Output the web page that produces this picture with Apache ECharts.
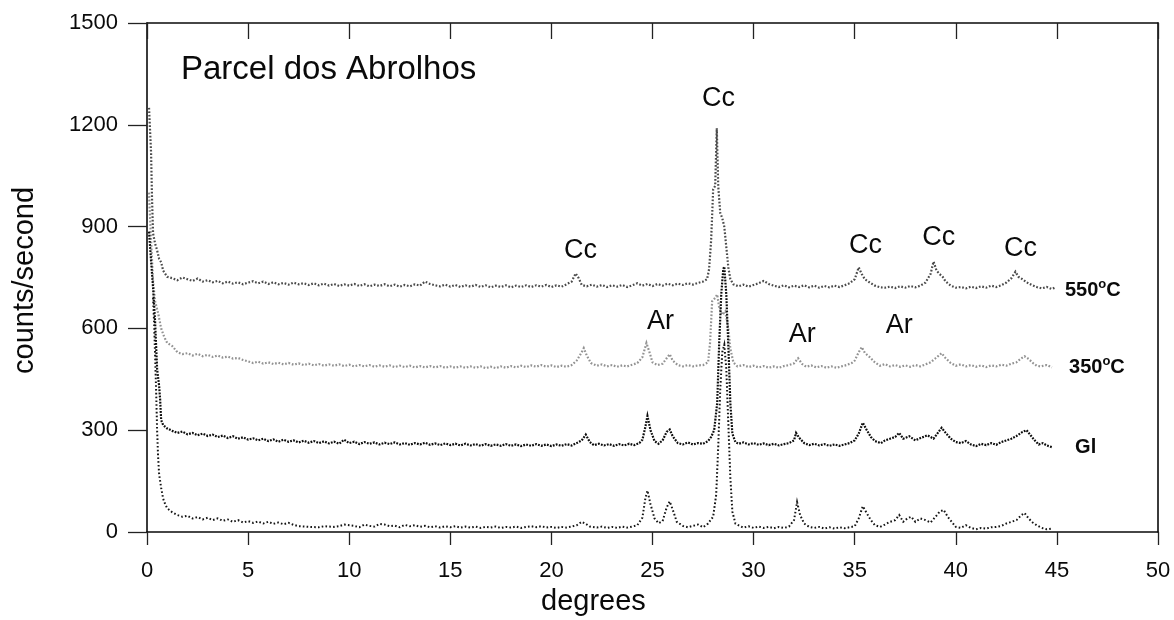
<!DOCTYPE html>
<html>
<head>
<meta charset="utf-8">
<script src="https://cdn.jsdelivr.net/npm/echarts@6/dist/echarts.min.js"></script>
<style>
  html, body { margin: 0; padding: 0; background: #fff; }
  #chart { width: 1174px; height: 620px; }
</style>
</head>
<body>
<div id="chart"></div>
<script>
// X-ray diffraction scans, counts/second against degrees (2-theta)
const xTicks = [0, 5, 10, 15, 20, 25, 30, 35, 40, 45, 50];
const yTicks = [0, 300, 600, 900, 1200, 1500];

// sample heated to 550 °C
const scan550 = [
  [0.1,1250],[0.15,1255],[0.2,1120],[0.25,980],[0.3,880],[0.4,850],[0.5,830],[0.6,805],[0.7,795],[0.8,770],
  [1.0,752],[1.25,748],[1.5,742],[1.75,750],[2.0,745],[2.25,740],[2.5,747],[2.75,738],[3.0,742],[3.25,736],
  [3.5,740],[3.75,733],[4.0,738],[4.25,732],[4.5,736],[4.75,730],[5.0,735],[5.25,739],[5.5,733],[5.75,738],
  [6.0,731],[6.25,736],[6.5,730],[6.75,734],[7.0,729],[7.25,735],[7.5,730],[7.75,733],[8.0,728],[8.25,733],
  [8.5,727],[8.75,732],[9.0,726],[9.25,731],[9.5,725],[9.75,730],[10.0,726],[10.25,731],[10.5,725],[10.75,730],
  [11.0,724],[11.25,729],[11.5,725],[11.75,730],[12.0,724],[12.25,729],[12.5,723],[12.75,728],[13.0,724],[13.25,730],
  [13.5,726],[13.75,738],[14.0,731],[14.25,727],[14.5,724],[14.75,729],[15.0,723],[15.25,728],[15.5,722],[15.75,727],
  [16.0,723],[16.25,728],[16.5,722],[16.75,727],[17.0,721],[17.25,726],[17.5,722],[17.75,727],[18.0,721],[18.25,726],
  [18.5,722],[18.75,727],[19.0,722],[19.25,727],[19.5,723],[19.75,728],[20.0,722],[20.25,727],[20.5,723],[20.75,730],
  [21.0,738],[21.2,762],[21.35,748],[21.5,728],[21.75,724],[22.0,729],[22.25,723],[22.5,728],[22.75,722],[23.0,727],
  [23.25,723],[23.5,728],[23.75,722],[24.0,727],[24.25,733],[24.5,726],[24.75,731],[25.0,725],[25.25,731],[25.5,726],
  [25.75,732],[26.0,727],[26.25,732],[26.5,728],[26.75,733],[27.0,729],[27.25,734],[27.5,738],[27.7,745],[27.8,775],
  [27.9,860],[28.0,1010],[28.1,1020],[28.18,1190],[28.25,1020],[28.35,940],[28.45,925],[28.55,900],[28.65,840],[28.75,780],
  [28.85,745],[29.0,730],[29.25,724],[29.5,729],[29.75,723],[30.0,728],[30.25,733],[30.5,740],[30.75,731],[31.0,726],
  [31.25,722],[31.5,727],[31.75,721],[32.0,726],[32.25,722],[32.5,727],[32.75,721],[33.0,726],[33.25,720],[33.5,725],
  [33.75,721],[34.0,726],[34.25,722],[34.5,727],[34.75,733],[35.0,745],[35.2,780],[35.35,760],[35.5,745],[35.75,735],
  [36.0,726],[36.25,721],[36.5,720],[36.75,723],[37.0,719],[37.25,724],[37.5,720],[37.75,725],[38.0,721],[38.25,726],
  [38.5,735],[38.75,760],[38.9,797],[39.05,770],[39.2,760],[39.35,752],[39.5,738],[39.75,726],[40.0,720],[40.25,722],
  [40.5,718],[40.75,723],[41.0,719],[41.25,724],[41.5,720],[41.75,726],[42.0,722],[42.25,727],[42.5,735],[42.75,748],
  [42.95,767],[43.1,752],[43.3,745],[43.5,736],[43.75,728],[44.0,722],[44.25,718],[44.5,722],[44.75,716],[44.9,720]
];

// sample heated to 350 °C
const scan350 = [
  [0.1,1000],[0.2,860],[0.3,740],[0.4,680],[0.55,645],[0.7,600],[0.85,575],[1.0,557],[1.25,548],[1.5,530],
  [1.75,524],[2.0,527],[2.25,520],[2.5,525],[2.75,518],[3.0,522],[3.25,516],[3.5,520],[3.75,514],[4.0,517],
  [4.25,511],[4.5,513],[4.75,507],[5.0,503],[5.25,498],[5.5,502],[5.75,496],[6.0,500],[6.25,495],[6.5,499],
  [6.75,494],[7.0,498],[7.25,493],[7.5,497],[7.75,492],[8.0,496],[8.25,491],[8.5,495],[8.75,490],[9.0,494],
  [9.25,490],[9.5,494],[9.75,489],[10.0,493],[10.25,488],[10.5,492],[10.75,488],[11.0,492],[11.25,487],[11.5,491],
  [11.75,487],[12.0,491],[12.25,486],[12.5,490],[12.75,486],[13.0,490],[13.25,485],[13.5,489],[13.75,485],[14.0,489],
  [14.25,485],[14.5,489],[14.75,484],[15.0,488],[15.25,484],[15.5,488],[15.75,484],[16.0,488],[16.25,484],[16.5,488],
  [16.75,483],[17.0,487],[17.25,483],[17.5,488],[17.75,484],[18.0,489],[18.25,485],[18.5,490],[18.75,486],[19.0,491],
  [19.25,487],[19.5,492],[19.75,487],[20.0,491],[20.25,486],[20.5,490],[20.75,487],[21.0,492],[21.25,505],[21.5,530],
  [21.6,542],[21.75,520],[21.95,498],[22.25,490],[22.5,494],[22.75,488],[23.0,492],[23.25,487],[23.5,491],[23.75,488],
  [24.0,493],[24.25,498],[24.5,515],[24.7,557],[24.85,530],[25.0,500],[25.25,492],[25.5,496],[25.7,512],[25.85,524],
  [26.0,505],[26.25,492],[26.5,488],[26.75,492],[27.0,488],[27.25,491],[27.5,492],[27.75,500],[27.85,560],[27.95,680],
  [28.1,690],[28.2,700],[28.3,660],[28.45,640],[28.6,650],[28.75,600],[28.85,540],[29.0,500],[29.2,488],[29.5,492],
  [29.75,486],[30.0,490],[30.25,485],[30.5,489],[30.75,484],[31.0,488],[31.25,484],[31.5,489],[31.75,492],[32.0,497],
  [32.2,512],[32.4,495],[32.6,487],[32.85,491],[33.1,485],[33.35,489],[33.6,484],[33.85,488],[34.1,484],[34.35,488],
  [34.6,492],[34.85,498],[35.0,505],[35.2,530],[35.35,545],[35.5,528],[35.75,515],[36.0,500],[36.25,490],[36.5,495],
  [36.75,488],[37.0,492],[37.25,487],[37.5,491],[37.75,487],[38.0,492],[38.25,488],[38.5,494],[38.75,500],[39.0,512],
  [39.3,527],[39.5,512],[39.75,498],[40.0,490],[40.25,494],[40.5,488],[40.75,492],[41.0,487],[41.25,491],[41.5,486],
  [41.75,491],[42.0,488],[42.25,493],[42.5,490],[42.75,496],[43.0,500],[43.2,510],[43.4,518],[43.6,510],[43.85,496],
  [44.0,490],[44.2,488],[44.5,492],[44.75,485]
];

// glycolated sample
const scanGl = [
  [0.1,885],[0.2,800],[0.3,720],[0.4,620],[0.5,480],[0.6,430],[0.65,390],[0.7,330],[0.8,315],[1.0,305],
  [1.25,298],[1.5,292],[1.75,296],[2.0,288],[2.25,292],[2.5,285],[2.75,290],[3.0,283],[3.25,287],[3.5,280],
  [3.75,284],[4.0,277],[4.25,282],[4.5,275],[4.75,279],[5.0,272],[5.25,276],[5.5,270],[5.75,275],[6.0,268],
  [6.25,273],[6.5,266],[6.75,272],[7.0,266],[7.25,270],[7.5,264],[7.75,269],[8.0,263],[8.25,268],[8.5,262],
  [8.75,267],[9.0,261],[9.25,266],[9.5,260],[9.75,272],[10.0,262],[10.25,266],[10.5,259],[10.75,265],[11.0,260],
  [11.25,264],[11.5,258],[11.75,263],[12.0,259],[12.25,264],[12.5,258],[12.75,262],[13.0,257],[13.25,262],[13.5,258],
  [13.75,263],[14.0,257],[14.25,261],[14.5,256],[14.75,261],[15.0,256],[15.25,260],[15.5,255],[15.75,260],[16.0,255],
  [16.25,259],[16.5,254],[16.75,259],[17.0,254],[17.25,258],[17.5,254],[17.75,259],[18.0,254],[18.25,258],[18.5,253],
  [18.75,258],[19.0,254],[19.25,259],[19.5,254],[19.75,258],[20.0,253],[20.25,258],[20.5,254],[20.75,259],[21.0,255],
  [21.25,262],[21.5,270],[21.7,287],[21.9,265],[22.1,256],[22.35,260],[22.6,255],[22.85,259],[23.1,254],[23.35,259],
  [23.6,255],[23.85,260],[24.1,256],[24.35,262],[24.5,272],[24.65,310],[24.75,342],[24.9,300],[25.1,268],[25.3,260],
  [25.5,270],[25.7,295],[25.85,302],[26.0,282],[26.25,262],[26.5,258],[26.75,264],[27.0,258],[27.25,262],[27.5,260],
  [27.75,268],[27.9,280],[28.05,300],[28.2,380],[28.3,560],[28.4,700],[28.5,775],[28.55,782],[28.65,700],[28.75,550],
  [28.85,380],[28.95,290],[29.1,265],[29.25,260],[29.5,264],[29.75,258],[30.0,262],[30.25,257],[30.5,261],[30.75,256],
  [31.0,260],[31.25,255],[31.5,259],[31.75,262],[32.0,270],[32.1,292],[32.25,278],[32.5,262],[32.75,256],[33.0,260],
  [33.25,255],[33.5,259],[33.75,254],[34.0,258],[34.25,254],[34.5,258],[34.75,262],[35.0,270],[35.2,290],[35.4,322],
  [35.6,300],[35.8,280],[36.0,268],[36.3,262],[36.5,270],[36.75,275],[37.0,280],[37.2,292],[37.4,275],[37.7,282],
  [38.0,270],[38.3,278],[38.6,285],[38.9,275],[39.15,295],[39.3,307],[39.5,292],[39.75,275],[40.0,265],[40.25,262],
  [40.5,268],[40.75,258],[41.0,253],[41.25,260],[41.5,256],[41.75,262],[42.0,257],[42.25,265],[42.5,270],[42.75,275],
  [43.0,283],[43.3,295],[43.5,300],[43.7,285],[43.9,270],[44.1,258],[44.3,262],[44.5,255],[44.75,250]
];

// untreated sample
const scanRaw = [
  [0.3,690],[0.35,620],[0.4,520],[0.45,420],[0.5,300],[0.55,220],[0.6,170],[0.7,130],[0.8,98],[0.9,82],
  [1.0,70],[1.25,58],[1.5,50],[1.75,45],[2.0,48],[2.25,40],[2.5,44],[2.75,37],[3.0,42],[3.25,35],
  [3.5,40],[3.75,33],[4.0,37],[4.25,30],[4.5,35],[4.75,28],[5.0,32],[5.25,27],[5.5,31],[5.75,25],
  [6.0,30],[6.25,24],[6.5,28],[6.75,23],[7.0,27],[7.25,21],[7.5,17],[7.75,16],[8.0,15],[8.5,14],
  [8.75,17],[9.0,16],[9.25,15],[9.5,17],[9.75,22],[10.0,20],[10.25,18],[10.5,14],[10.75,22],[11.0,18],
  [11.25,16],[11.5,24],[11.75,22],[12.0,17],[12.25,19],[12.5,14],[12.75,21],[13.0,17],[13.25,20],[13.5,15],
  [13.75,18],[14.0,14],[14.25,17],[14.5,13],[14.75,17],[15.0,14],[15.25,17],[15.5,13],[15.75,16],[16.0,13],
  [16.25,16],[16.5,12],[16.75,15],[17.0,13],[17.25,16],[17.5,12],[17.75,15],[18.0,13],[18.25,16],[18.5,12],
  [18.75,15],[19.0,17],[19.25,14],[19.5,17],[19.75,13],[20.0,15],[20.25,12],[20.5,15],[20.75,13],[21.0,16],
  [21.25,20],[21.5,30],[21.7,24],[21.9,16],[22.25,13],[22.5,16],[22.75,12],[23.0,15],[23.25,12],[23.5,16],
  [23.75,13],[24.0,16],[24.25,20],[24.5,42],[24.65,100],[24.75,122],[24.9,82],[25.1,40],[25.3,26],[25.5,32],
  [25.7,72],[25.85,90],[26.0,66],[26.2,30],[26.5,18],[26.75,14],[27.0,18],[27.25,22],[27.5,14],[27.75,25],
  [28.0,45],[28.15,110],[28.25,250],[28.35,420],[28.45,530],[28.55,552],[28.65,480],[28.75,320],[28.85,160],[28.95,60],
  [29.1,25],[29.3,18],[29.5,13],[29.75,17],[30.0,12],[30.25,16],[30.5,12],[30.75,15],[31.0,11],[31.25,15],
  [31.5,12],[31.75,16],[32.0,35],[32.15,88],[32.3,50],[32.5,25],[32.75,15],[33.0,12],[33.25,15],[33.5,10],
  [33.75,14],[34.0,10],[34.25,14],[34.5,11],[34.75,14],[35.0,17],[35.2,40],[35.4,76],[35.6,55],[35.8,35],
  [36.0,20],[36.25,15],[36.5,22],[36.75,30],[37.0,35],[37.2,50],[37.4,30],[37.6,40],[37.8,45],[38.0,30],
  [38.25,40],[38.5,35],[38.75,28],[39.0,45],[39.2,60],[39.4,65],[39.6,45],[39.8,30],[40.0,15],[40.25,12],
  [40.5,20],[40.75,12],[41.0,8],[41.25,12],[41.5,10],[41.75,14],[42.0,15],[42.25,18],[42.5,25],[42.75,30],
  [43.0,35],[43.25,50],[43.4,56],[43.6,40],[43.8,28],[44.0,20],[44.25,12],[44.5,8],[44.75,10]
];

// phase names written above the reflections: [text, degrees, counts]
const peakNotes = [
  ['Cc', 28.27, 1276], ['Cc', 21.44, 828], ['Cc', 35.54, 843], ['Cc', 39.16, 869], ['Cc', 43.2, 834],
  ['Ar', 25.4, 619], ['Ar', 32.4, 583], ['Ar', 37.2, 607]
];
// treatment names at the right-hand end of each scan: [text, degrees, counts]
const scanNotes = [
  ['{a|550}{b|o}{a|C}', 45.4, 712], ['{a|350}{b|o}{a|C}', 45.6, 486], ['{a|Gl}', 45.9, 250]
];
const titleText = 'Parcel dos Abrolhos';
const titleAt = [1.68, 1362];

const FONT = '"Liberation Sans", Arial, Helvetica, sans-serif';
const INK = '#0a0a0a';

const chart = echarts.init(document.getElementById('chart'), null, { renderer: 'canvas' });

function scanSeries(name, data, color, width, dash, z) {
  return {
    name, type: 'line', data, xAxisIndex: 0, yAxisIndex: 0,
    showSymbol: false, symbol: 'none', smooth: false, z,
    lineStyle: { color, width, type: dash, cap: 'butt', join: 'miter' },
    silent: true, animation: false
  };
}

function noteSeries(items, labelStyle) {
  return {
    type: 'scatter', symbolSize: 0, silent: true, z: 10,
    itemStyle: { opacity: 1 },
    data: items,
    label: Object.assign({ show: true, position: 'inside', formatter: p => p.name,
      fontFamily: FONT, color: INK, opacity: 1, textBorderWidth: 0 }, labelStyle)
  };
}

const option = {
  backgroundColor: '#ffffff',
  animation: false,
  grid: { left: 147, right: 16, top: 23, bottom: 88, containLabel: false },
  xAxis: [
    {
      type: 'value', min: 0, max: 50, interval: 5, position: 'bottom',
      axisLine: { show: true, lineStyle: { color: INK, width: 1.6 } },
      axisTick: { show: true, inside: false, length: 13, lineStyle: { color: '#222', width: 1.3 } },
      axisLabel: { color: INK, fontSize: 22, fontFamily: FONT, margin: 28,
        formatter: v => (xTicks.indexOf(v) >= 0 ? String(v) : '') },
      splitLine: { show: false }
    },
    {
      type: 'value', min: 0, max: 50, interval: 5, position: 'top',
      axisLine: { show: true, onZero: false, lineStyle: { color: INK, width: 1.6 } },
      axisTick: { show: true, inside: true, length: 16, lineStyle: { color: '#222', width: 1.3 } },
      axisLabel: { show: false }, splitLine: { show: false }
    }
  ],
  yAxis: [
    {
      type: 'value', min: 0, max: 1500, interval: 300, position: 'left',
      axisLine: { show: true, lineStyle: { color: INK, width: 1.6 } },
      axisTick: { show: true, inside: false, length: 19, lineStyle: { color: '#222', width: 1.3 } },
      axisLabel: { color: INK, fontSize: 22, fontFamily: FONT, margin: 29,
        formatter: v => (yTicks.indexOf(v) >= 0 ? String(v) : '') },
      splitLine: { show: false }
    },
    {
      type: 'value', min: 0, max: 1500, interval: 300, position: 'right',
      axisLine: { show: true, onZero: false, lineStyle: { color: INK, width: 1.6 } },
      axisTick: { show: false }, axisLabel: { show: false }, splitLine: { show: false }
    }
  ],
  series: [
    scanSeries('550', scan550, '#4a4a4a', 2.2, [1.7, 1.8], 3),
    scanSeries('350', scan350, '#929292', 2.2, [1.7, 1.8], 2),
    scanSeries('Gl', scanGl, '#0d0d0d', 2.2, [1.8, 1.3], 4),
    scanSeries('raw', scanRaw, '#141414', 2.0, [1.6, 2.2], 5),
    noteSeries(peakNotes.map(n => ({ value: [n[1], n[2]], name: n[0] })), { fontSize: 27 }),
    noteSeries(scanNotes.map(n => ({ value: [n[1], n[2]], name: n[0] })), {
      align: 'left',
      rich: {
        a: { fontSize: 20, fontWeight: 'bold', fontFamily: FONT, color: INK, lineHeight: 24 },
        b: { fontSize: 13, fontWeight: 'bold', fontFamily: FONT, color: INK, lineHeight: 24, verticalAlign: 'top' }
      }
    }),
    noteSeries([{ value: titleAt, name: titleText }], { align: 'left', fontSize: 33 })
  ],
  graphic: [
    { type: 'text', left: 541, top: 587,
      style: { text: 'degrees', fontSize: 29, fontFamily: FONT, fill: INK } },
    { type: 'text', x: 10, y: 374, rotation: Math.PI / 2,
      style: { text: 'counts/second', fontSize: 29, fontFamily: FONT, fill: INK } }
  ]
};

chart.setOption(option);
</script>
</body>
</html>
